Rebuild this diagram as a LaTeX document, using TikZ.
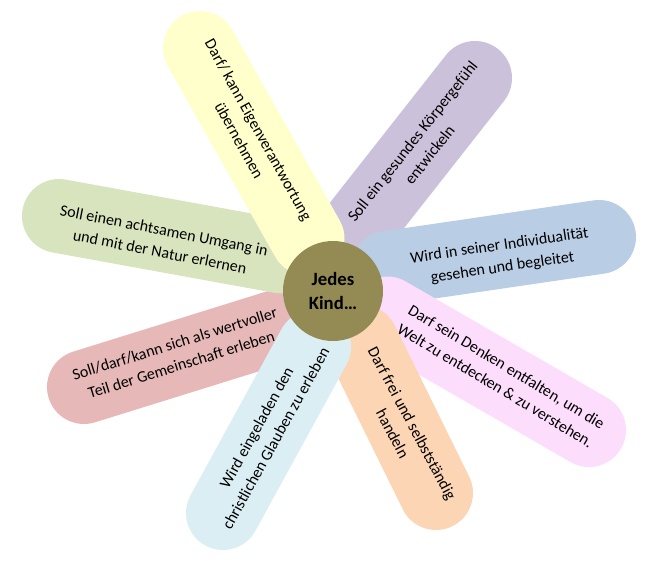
\documentclass[tikz,border=0pt]{standalone}
\usepackage{fontspec}
\setmainfont{Carlito}
\definecolor{cYellow}{HTML}{FFFFCC}
\definecolor{cPurple}{HTML}{CCC1DA}
\definecolor{cBlue}{HTML}{B9CDE5}
\definecolor{cPink}{HTML}{FCDDFC}
\definecolor{cOrange}{HTML}{FCD5B5}
\definecolor{cLight}{HTML}{DBEEF4}
\definecolor{cRed}{HTML}{E6B9B8}
\definecolor{cGreen}{HTML}{D7E4BD}
\definecolor{cOlive}{HTML}{948A54}
\begin{document}
\begin{tikzpicture}[x=1pt,y=-1pt,
  petal/.style={line width=74pt, line cap=round},
  lbl/.style={align=center, font=\fontsize{16}{22}\selectfont, inner sep=0pt, text=black}]
\useasboundingbox (0,0) rectangle (654,574);
\coordinate (pui) at (353.3,232.8); \coordinate (puo) at (475,78);
\coordinate (bli) at (388.3,267.9); \coordinate (blo) at (599,237);
\coordinate (pii) at (387.2,313.5); \coordinate (pio) at (589,430);
\coordinate (ori) at (361.6,341.8); \coordinate (oro) at (436,493);
\coordinate (rei) at (282.9,325.1); \coordinate (reo) at (84,387);
\coordinate (lbi) at (314,346.8);   \coordinate (lbo) at (223,513);
\coordinate (gri) at (280.4,256.3); \coordinate (gro) at (59,216);
\coordinate (yei) at (307.5,238.7); \coordinate (yeo) at (200,48);
\draw[petal, cPurple] (pui) -- (puo);
\draw[petal, cBlue] (bli) -- (blo);
\draw[petal, cPink] (pii) -- (pio);
\draw[petal, cOrange] (ori) -- (oro);
\draw[petal, cRed] (rei) -- (reo);
\draw[petal, cLight] (lbi) -- (lbo);
\draw[petal, cGreen] (gri) -- (gro);
\draw[petal, cYellow] (yei) -- (yeo);
\node[circle, fill=cOlive, minimum size=100pt, inner sep=0pt, align=center,
  font=\fontsize{18.7}{24}\selectfont\bfseries] (c) at (333,291) {Jedes\\Kind…};
\node[lbl, rotate=-61] (tye) at (249,135) {Darf/ kann Eigenverantwortung\\übernehmen};
\node[lbl, rotate=51.8] (tpu) at (421,148) {Soll ein gesundes Körpergefühl\\entwickeln};
\node[lbl, rotate=8.3] (tbl) at (501,257) {Wird in seiner Individualität\\gesehen und begleitet};
\node[lbl, rotate=-31] (tpi) at (501,376) {Darf sein Denken entfalten, um die\\Welt zu entdecken \& zu verstehen.};
\node[lbl, rotate=-62] (tor) at (402.5,428.5) {Darf frei und selbstständig\\handeln};
\node[lbl, rotate=61] (tlb) at (266,433) {Wird eingeladen den\\christlichen Glauben zu erleben};
\node[lbl, rotate=17.3] (tre) at (178,354) {Soll/darf/kann sich als wertvoller\\Teil der Gemeinschaft erleben};
\node[lbl, rotate=-11] (tgr) at (162,241) {Soll einen achtsamen Umgang in\\und mit der Natur erlernen};
\end{tikzpicture}
\end{document}
